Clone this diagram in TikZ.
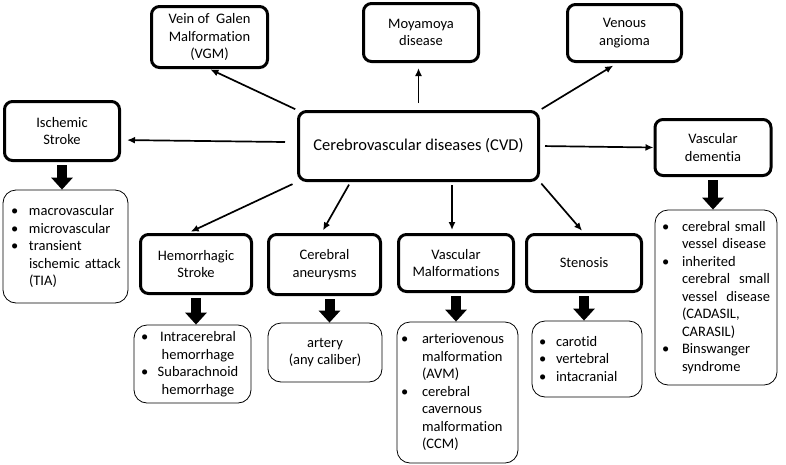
\documentclass[tikz,border=0pt]{standalone}
\usepackage{fontspec}
\setmainfont{Carlito}[Ligatures={NoCommon,NoContextual}]
\usetikzlibrary{arrows.meta}
\newcommand{\bul}[1][19pt]{\makebox[#1][l]{\textbullet}}
\newcommand{\cont}[1][19pt]{\hspace*{#1}}
\begin{document}
\begin{tikzpicture}[x=1pt,y=-1pt,
	box size/.style 2 args={minimum width=#1, minimum height=#2},
	disease/.style={draw, line width=3pt, rounded corners=8pt, align=center, inner sep=2pt, font=\fontsize{14.5}{17.5}\selectfont},
	subtype/.style={draw, line width=0.8pt, rounded corners=13pt, inner sep=0pt, align=left, font=\fontsize{14.5}{17.5}\selectfont},
	link/.style={-{Latex[length=8pt,width=7pt]}, line width=1.7pt},
	block/.style={line width=10pt, -{Triangle[width=21pt,length=12pt]}, shorten <=3pt}]

	\useasboundingbox (0,0) rectangle (786,464);

	% main node
	\node[disease, box size={240}{69}, font=\fontsize{16.5}{20}\selectfont] (cvd) at (418.5,146) {Cerebrovascular diseases (CVD)};

	% disease groups
	\node[disease, box size={116}{61}] (vgm) at (209.5,37) {Vein of~ Galen\\Malformation\\(VGM)};
	\node[disease, box size={115}{58}] (moya) at (421,32.5) {Moyamoya\\disease};
	\node[disease, box size={114}{57}] (venous) at (624.5,33) {Venous\\angioma};
	\node[disease, box size={115}{59}] (isch) at (62,131) {Ischemic\\Stroke};
	\node[disease, box size={116}{56}] (vd) at (713,147.5) {Vascular\\dementia};
	\node[disease, box size={111}{59}] (hem) at (196,264) {Hemorrhagic\\Stroke};
	\node[disease, box size={112}{60}] (aneu) at (324.5,264.5) {Cerebral\\aneurysms};
	\node[disease, box size={115}{57}] (vm) at (456,263) {Vascular\\Malformations};
	\node[disease, box size={115}{57}] (sten) at (584,263) {Stenosis};

	% subtypes
	\node[subtype, box size={125}{113}, text width=115pt, inner xsep=5pt] (isch list) at (65.5,246.5)
		{\cont[3pt]\bul[18pt]macrovascular\\\cont[3pt]\bul[18pt]microvascular\\\cont[3pt]\bul[18pt]transient\\\cont[21pt]ischemic attack\\\cont[21pt](TIA)};
	\node[subtype, box size={117}{78}, text width=103pt, inner xsep=7pt] (hem list) at (192.5,364)
		{\bul[14pt]\makebox[86pt]{Intracerebral}\\\cont[14pt]\makebox[86pt]{hemorrhage}\\\bul[14pt]\makebox[86pt]{Subarachnoid}\\\cont[14pt]\makebox[86pt]{hemorrhage}};
	\node[subtype, box size={114}{59}, align=center] (aneu list) at (325,352.5) {artery\\(any caliber)};
	\node[subtype, box size={121}{141}, text width=113pt, inner xsep=4pt] (vm list) at (457.5,392.5)
		{\bul[21pt]arteriovenous\\\cont[21pt]malformation\\\cont[21pt](AVM)\\\bul[21pt]cerebral\\\cont[21pt]cavernous\\\cont[21pt]malformation\\\cont[21pt](CCM)};
	\node[subtype, box size={110}{76}, text width=96pt, inner xsep=7pt] (sten list) at (587,359)
		{\bul[17pt]carotid\\\bul[17pt]vertebral\\\bul[17pt]intacranial};
	\node[subtype, box size={122}{175}, text width=108pt, inner xsep=7pt] (vd list) at (716,297.5)
		{\bul[20pt]cerebral small\\\cont[20pt]vessel disease\\\bul[20pt]inherited\\\cont[20pt]cerebral\hfill small\\\cont[20pt]vessel\hfill disease\\\cont[20pt](CADASIL,\\\cont[20pt]CARASIL)\\\bul[20pt]Binswanger\\\cont[20pt]syndrome};

	% connections from the main node
	\draw[link, shorten <=2pt, shorten >=1pt] (cvd.north west) -- (vgm.south);
	\draw[link, shorten <=7pt, shorten >=5pt] (cvd.north) -- (cvd.north |- moya.south);
	\draw[link, shorten <=2pt, shorten >=5pt] (cvd.north east) -- ([xshift=-7pt]venous.south);
	\draw[link, shorten >=6pt] ([xshift=-12pt,yshift=4pt]cvd.west) -- ([yshift=-9pt]isch.east);
	\draw[link, shorten <=5pt] (cvd.east) -- (vd.west);
	\draw[link, shorten <=5pt, shorten >=3pt] (cvd.south west) -- ([xshift=-8pt]hem.north);
	\draw[link, shorten <=3pt, shorten >=3pt] ([xshift=-68pt]cvd.south) -- ([xshift=-3pt]aneu.north);
	\draw[link, shorten <=3pt, shorten >=3pt] ([xshift=-4pt]vm.north |- cvd.south) -- ([xshift=-4pt]vm.north);
	\draw[link, shorten <=2pt, shorten >=3pt] (cvd.south east) -- (sten.north);

	% block arrows to the subtypes
	\foreach \group in {isch, hem, vm, sten, vd}
		\draw[block] (\group.south) -- (\group.south |- \group\space list.north);
	\draw[block] ([xshift=5pt]aneu.south) -- ([xshift=5pt]aneu.south |- aneu list.north);
\end{tikzpicture}
\end{document}
